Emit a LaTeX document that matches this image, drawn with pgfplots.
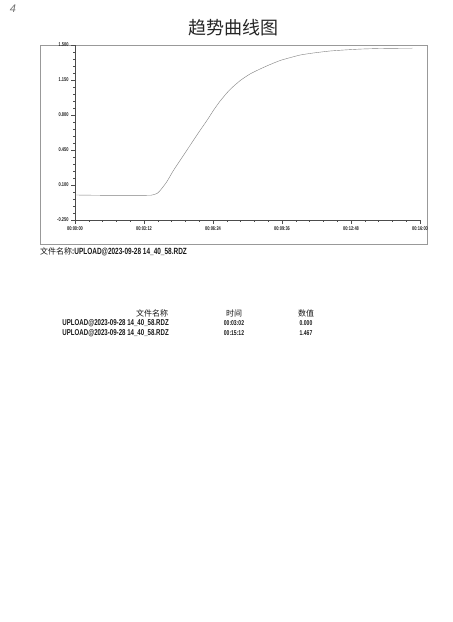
\documentclass[border=0pt]{standalone}
\usepackage{pgfplots}
\pgfplotsset{compat=1.18}
\usepackage{fontspec}
\setmainfont{Liberation Sans}
\newfontfamily\cjk{Noto Sans CJK SC}
\newfontfamily\cond[FakeStretch=0.72]{Liberation Sans Bold}
\begin{document}
\begin{tikzpicture}
\fill[white] (0pt,0pt) rectangle (453pt,622pt);
\node[text=black!55, font=\itshape\fontsize{11}{11}\selectfont] at (13pt,613pt) {4};
\node[text=black!85, font=\cjk\fontsize{18}{18}\selectfont] at (233pt,594pt) {趋势曲线图};
\draw[black!40, line width=0.6pt] (40pt,378pt) rectangle (427pt,577pt);
\begin{axis}[
  at={(75pt,402pt)}, anchor=south west,
  scale only axis, width=345pt, height=175pt,
  xmin=0, xmax=960, ymin=-0.25, ymax=1.5,
  axis x line*=bottom, axis y line*=left,
  axis line style={black!70, line width=0.5pt},
  xtick={0,192,384,576,768,960},
  xticklabels={00:00:00,00:03:12,00:06:24,00:09:36,00:12:48,00:16:00},
  ytick={-0.25,0.1,0.45,0.8,1.15,1.5},
  yticklabels={-0.250,0.100,0.450,0.800,1.150,1.500},
  minor x tick num=4, minor y tick num=4,
  tick align=outside,
  major tick length=4pt, minor tick length=2pt,
  tick style={black!70, line width=0.4pt},
  ticklabel style={font=\cond\fontsize{5.5}{6}\selectfont, text=black!85},
  xticklabel style={yshift=1pt},
  yticklabel style={xshift=1pt},
  clip=false,
]
\addplot[black!50, line width=0.4pt, smooth, tension=0.4] coordinates {
(0,0.0) (100,-0.004) (200,-0.003) (215,0.0) (228,0.015) (237,0.045) (255,0.13)
(273,0.24) (296,0.365) (320,0.495) (344,0.625) (368,0.75) (386,0.85) (404,0.94)
(430,1.05) (460,1.145) (487,1.21) (515,1.26) (543,1.305) (571,1.345) (600,1.375)
(627,1.40) (663,1.42) (710,1.44) (758,1.452) (800,1.46) (850,1.465) (900,1.467)
(939,1.468)
};
\end{axis}
\node[anchor=west, inner sep=0pt, text=black!90] at (40pt,370pt) {{\cjk\fontsize{8}{8}\selectfont 文件名称}{\cond\fontsize{9}{9}\selectfont :UPLOAD@2023-09-28 14\_40\_58.RDZ}};
\node[text=black!90, font=\cjk\fontsize{8}{8}\selectfont] at (152pt,309pt) {文件名称};
\node[text=black!90, font=\cjk\fontsize{8}{8}\selectfont] at (234pt,309pt) {时间};
\node[text=black!90, font=\cjk\fontsize{8}{8}\selectfont] at (306pt,309pt) {数值};
\node[anchor=east, inner sep=0pt, text=black!90, font=\cond\fontsize{8.5}{9}\selectfont] at (169pt,299pt) {UPLOAD@2023-09-28 14\_40\_58.RDZ};
\node[anchor=east, inner sep=0pt, text=black!90, font=\cond\fontsize{8.5}{9}\selectfont] at (169pt,289pt) {UPLOAD@2023-09-28 14\_40\_58.RDZ};
\node[text=black!90, font=\cond\fontsize{7}{8}\selectfont] at (234pt,299pt) {00:03:02};
\node[text=black!90, font=\cond\fontsize{7}{8}\selectfont] at (234pt,289pt) {00:15:12};
\node[text=black!90, font=\cond\fontsize{7}{8}\selectfont] at (306pt,299pt) {0.000};
\node[text=black!90, font=\cond\fontsize{7}{8}\selectfont] at (306pt,289pt) {1.467};
\end{tikzpicture}
\end{document}
